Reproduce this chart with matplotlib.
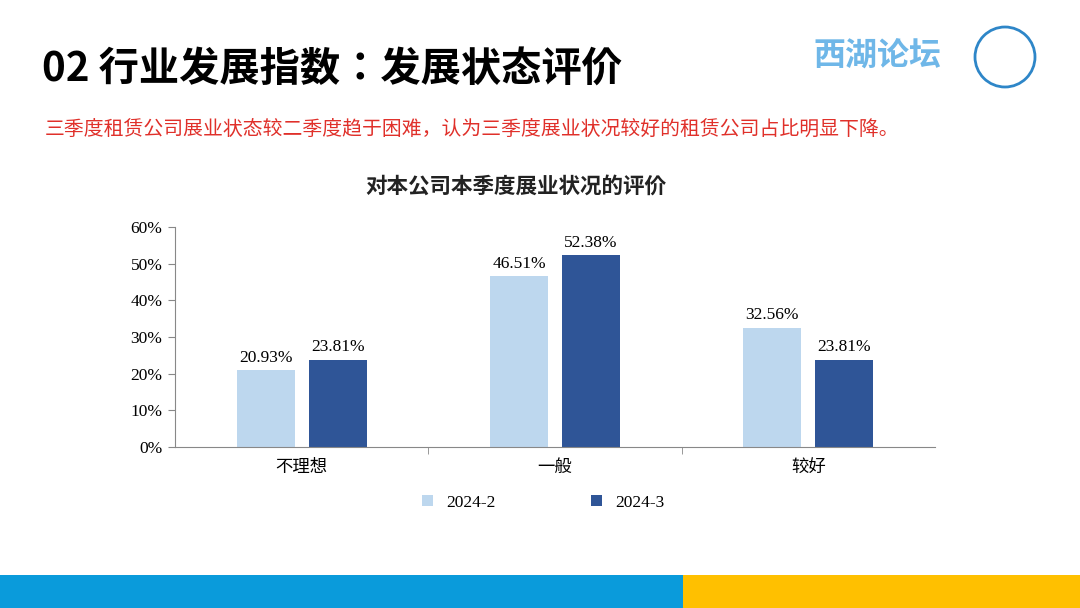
import matplotlib
matplotlib.use("Agg")
import matplotlib.pyplot as plt
from matplotlib import font_manager as fm
from matplotlib.patches import Rectangle, Ellipse
import numpy as np

categories = ["不理想", "一般", "较好"]
series_names = ["2024-2", "2024-3"]
values_q2 = [20.93, 46.51, 32.56]
values_q3 = [23.81, 52.38, 23.81]
yticks = [0, 10, 20, 30, 40, 50, 60]

files = [f for f in fm.findSystemFonts() if "CJK" in f]
def pick(keys):
    for k in keys:
        for f in files:
            if k in f:
                return f
    return files[0] if files else None

reg_file = pick(["SansCJK-Regular", "SansCJKsc-Regular", "SansCJKSC-Regular", "Regular"])
bold_file = pick(["SansCJK-Bold", "SansCJKsc-Bold", "SansCJKSC-Bold", "Bold", "Black"])

def fp(f, size, fallback_weight="normal"):
    if f:
        return fm.FontProperties(fname=f, size=size)
    return fm.FontProperties(family="Noto Sans CJK SC", size=size, weight=fallback_weight)

SERIF = "Liberation Serif"
c2, c3 = "#BDD7EE", "#2F5597"

fig = plt.figure(figsize=(10.8, 6.08), dpi=100)
fig.patch.set_facecolor("white")

fig.text(42/1080, 1-70/608, "02 行业发展指数：发展状态评价", fontproperties=fp(bold_file, 29, "bold"),
         va="center", ha="left", color="black")
fig.text(45/1080, 1-130/608, "三季度租赁公司展业状态较二季度趋于困难，认为三季度展业状况较好的租赁公司占比明显下降。",
         fontproperties=fp(reg_file, 14.3), color="#E0302A", va="center", ha="left")
fig.text(516/1080, 1-186/608, "对本公司本季度展业状况的评价", fontproperties=fp(bold_file, 15.5, "bold"),
         ha="center", va="center", color="#222222")
fig.text(877/1080, 1-57/608, "西湖论坛", fontproperties=fp(bold_file, 23, "bold"),
         color="#6FB7E8", ha="center", va="center")
fig.patches.append(Ellipse((1005/1080, 1-57/608), 60/1080, 60/608, transform=fig.transFigure,
                           facecolor="white", edgecolor="#2E86C8", lw=2))
fig.patches.append(Rectangle((0, 0), 683/1080, 33/608, transform=fig.transFigure,
                             facecolor="#0A9BDB", edgecolor="none"))
fig.patches.append(Rectangle((683/1080, 0), 1-683/1080, 33/608, transform=fig.transFigure,
                             facecolor="#FFC000", edgecolor="none"))

ax = fig.add_axes([175/1080, 161/608, 760/1080, 220/608])
x = np.arange(len(categories))
w, off = 0.23, 0.142
b2 = ax.bar(x - off, values_q2, w, color=c2, label=series_names[0])
b3 = ax.bar(x + off, values_q3, w, color=c3, label=series_names[1])
for bars, vals in ((b2, values_q2), (b3, values_q3)):
    for b, v in zip(bars, vals):
        ax.text(b.get_x()+b.get_width()/2, v+1.2, f"{v:.2f}%", ha="center", va="bottom",
                fontfamily=SERIF, fontsize=12.5)
ax.set_xlim(-0.5, 2.5)
ax.set_ylim(0, 60)
ax.set_yticks(yticks)
ax.set_yticklabels([f"{t}%" for t in yticks], fontfamily=SERIF, fontsize=12.5)
ax.set_xticks([0.5, 1.5], minor=True)
ax.set_xticks(x)
ax.set_xticklabels(categories, fontproperties=fp(reg_file, 12.5))
ax.tick_params(axis="x", which="major", length=0, pad=8)
ax.tick_params(axis="x", which="minor", length=5, color="#888888")
ax.tick_params(axis="y", length=5, color="#888888", pad=4)
for s in ["top", "right"]:
    ax.spines[s].set_visible(False)
for s in ["left", "bottom"]:
    ax.spines[s].set_color("#888888")
ax.legend(loc="center", bbox_to_anchor=(0.485, -0.255), ncol=2, frameon=False,
          prop={"family": SERIF, "size": 12.5}, handlelength=0.6, handleheight=0.6,
          columnspacing=5.5)
fig.savefig("out.png", dpi=100)
